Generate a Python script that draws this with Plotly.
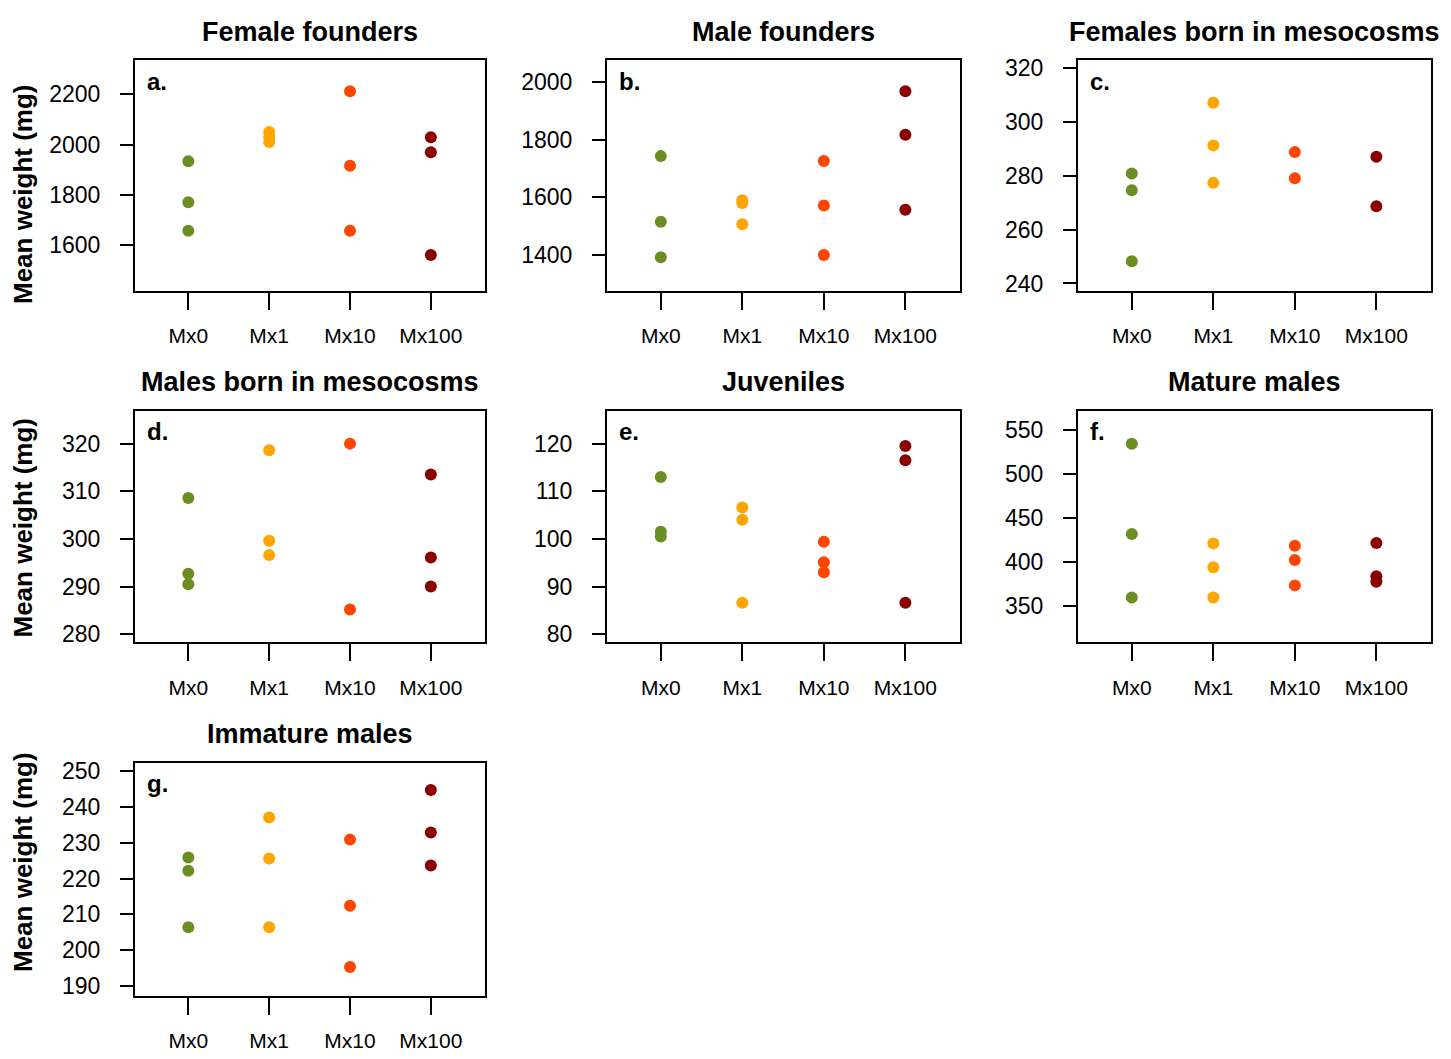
import plotly.graph_objects as go

W, H = 1451, 1059

groups = ["Mx0", "Mx1", "Mx10", "Mx100"]
group_colors = ["olivedrab", "orange", "orangered", "darkred"]

# values per group (Mx0, Mx1, Mx10, Mx100), mean weight in mg
female_founders = [[1934, 1771, 1658], [2050, 2030, 2010], [2212, 1916, 1658], [2029, 1970, 1562]]
male_founders = [[1743, 1515, 1392], [1590, 1580, 1507], [1726, 1572, 1400], [1968, 1817, 1557]]
females_born = [[280.8, 274.6, 248.2], [307.0, 291.2, 277.3], [288.7, 279.0], [287.0, 268.6]]
males_born = [[308.6, 292.7, 290.5], [318.6, 299.6, 296.6], [320.0, 285.2], [313.5, 296.1, 290.0]]
juveniles = [[113.0, 101.5, 100.5], [106.6, 104.0, 86.6], [99.4, 95.1, 93.0], [119.5, 116.5, 86.6]]
mature_males = [[533.9, 432.0, 360.0], [421.3, 394.4, 360.0], [418.6, 402.6, 373.8], [421.6, 384.0, 378.0]]
immature_males = [[225.9, 222.2, 206.4], [237.1, 225.6, 206.4], [230.9, 212.4, 195.3], [244.8, 232.9, 223.7]]

titles = ["Female founders", "Male founders", "Females born in mesocosms",
          "Males born in mesocosms", "Juveniles", "Mature males", "Immature males"]
panel_letters = ["a.", "b.", "c.", "d.", "e.", "f.", "g."]
panel_data = [female_founders, male_founders, females_born, males_born,
              juveniles, mature_males, immature_males]
yticks = [[1600, 1800, 2000, 2200], [1400, 1600, 1800, 2000], [240, 260, 280, 300, 320],
          [280, 290, 300, 310, 320], [80, 90, 100, 110, 120], [350, 400, 450, 500, 550],
          [190, 200, 210, 220, 230, 240, 250]]
yranges = [[1419, 2334], [1275, 2075], [237.2, 322.7], [278.3, 326.9],
           [78.3, 126.9], [309.4, 571.3], [187.3, 252.3]]
ylabel = "Mean weight (mg)"

# layout geometry (pixels in the page)
col_x = [(135, 485), (607, 960), (1078, 1431)]
row_y = [(55, 288), (409, 643), (765, 1000)]
ylabel_centers = [190, 527, 865]
title_dx = [0, 0, 0]

FONT = "Liberation Sans, Arial, sans-serif"

def px(x):
    return x / W

def py(y):
    return 1 - y / H

fig = go.Figure()
annotations = []
layout_axes = {}

for k, (title, letter, data, yt, yr) in enumerate(zip(titles, panel_letters, panel_data, yticks, yranges)):
    r, c = divmod(k, 3)
    x0, x1 = col_x[c]
    y0, y1 = row_y[r]
    n = k + 1
    xa = "x" if n == 1 else f"x{n}"
    ya = "y" if n == 1 else f"y{n}"
    for gi, g in enumerate(groups):
        vals = data[gi]
        fig.add_trace(go.Scatter(
            x=[g] * len(vals), y=vals, mode="markers", xaxis=xa, yaxis=ya,
            marker=dict(size=12, color=group_colors[gi], line=dict(width=0)),
            showlegend=False, hoverinfo="y"))
    xkey = "xaxis" if n == 1 else f"xaxis{n}"
    ykey = "yaxis" if n == 1 else f"yaxis{n}"
    layout_axes[xkey] = dict(
        domain=[px(x0), px(x1)], anchor=ya, type="category",
        categoryorder="array", categoryarray=groups, range=[-0.66, 3.67],
        showline=True, linecolor="black", linewidth=2, mirror=True,
        ticks="outside", ticklen=17, tickwidth=2, tickcolor="black",
        showgrid=False, zeroline=False, fixedrange=True,
        tickfont=dict(family=FONT, size=21, color="black"),
        ticklabelstandoff=8)
    layout_axes[ykey] = dict(
        domain=[py(y1), py(y0)], anchor=xa, range=yr,
        tickvals=yt, ticktext=[str(v) for v in yt],
        showline=True, linecolor="black", linewidth=2, mirror=True,
        ticks="outside", ticklen=13, tickwidth=2, tickcolor="black",
        showgrid=False, zeroline=False, fixedrange=True,
        tickfont=dict(family=FONT, size=23, color="black"),
        ticklabelstandoff=15)
    # panel title
    annotations.append(dict(
        text=f"<b>{title}</b>", x=px((x0 + x1) / 2 + title_dx[c]), y=py(y0 - 29),
        xref="paper", yref="paper", xanchor="center", yanchor="middle",
        showarrow=False, font=dict(family=FONT, size=27, color="black")))
    # panel letter
    annotations.append(dict(
        text=f"<b>{letter}</b>", x=px(x0 + 10), y=py(y0 + 21),
        xref="paper", yref="paper", xanchor="left", yanchor="middle",
        showarrow=False, font=dict(family=FONT, size=24, color="black")))
    # y-axis label on left column
    if c == 0:
        annotations.append(dict(
            text=f"<b>{ylabel}</b>", x=px(23), y=py(ylabel_centers[r]),
            xref="paper", yref="paper", xanchor="center", yanchor="middle",
            textangle=-90, showarrow=False,
            font=dict(family=FONT, size=26, color="black")))

fig.update_layout(
    width=W, height=H, autosize=False,
    margin=dict(l=0, r=0, t=0, b=0),
    paper_bgcolor="white", plot_bgcolor="white",
    annotations=annotations, **layout_axes)

fig.write_html(
    "out.html", config={"displayModeBar": False},
    post_script="document.body.style.margin='0';document.body.style.overflow='hidden';")
